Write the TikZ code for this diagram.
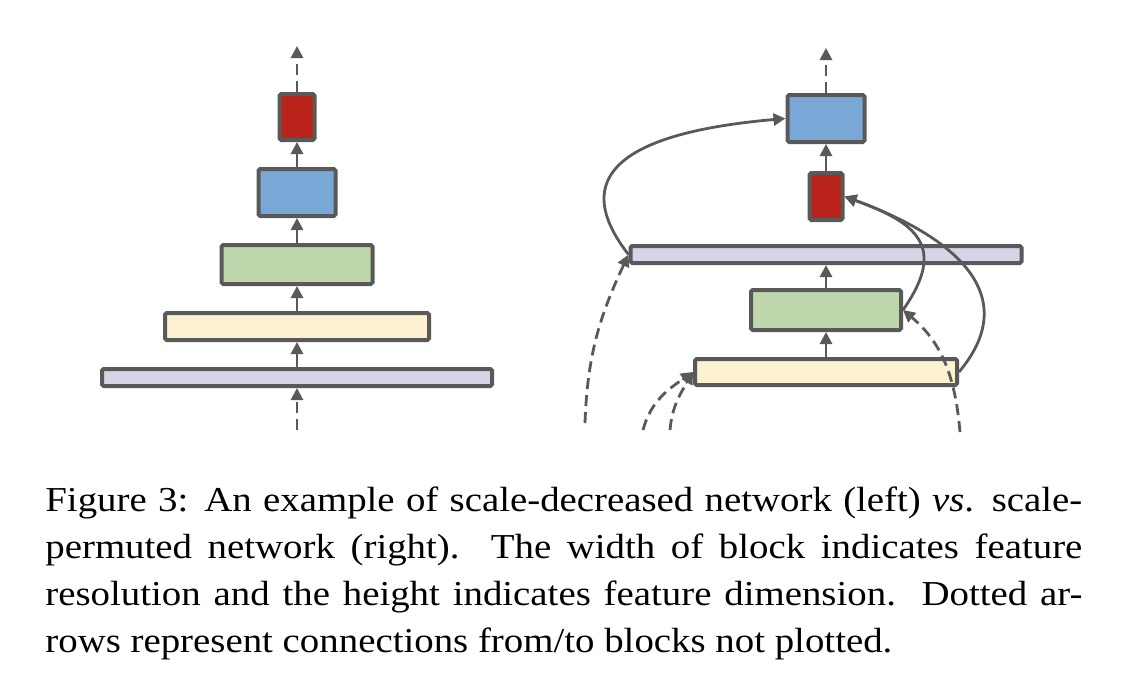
\documentclass[tikz,border=0pt]{standalone}
\usepackage{fontspec}
\setmainfont{Liberation Serif}
\newfontfamily\capfont[FakeStretch=1.11]{Liberation Serif}
\usepackage{tikz}
\usetikzlibrary{arrows.meta}
\definecolor{lnGray}{RGB}{89,89,89}
\definecolor{cRed}{RGB}{186,35,25}
\definecolor{cBlue}{RGB}{121,167,214}
\definecolor{cGreen}{RGB}{190,215,173}
\definecolor{cYellow}{RGB}{252,241,209}
\definecolor{cPurple}{RGB}{216,212,232}

\begin{document}
\begin{tikzpicture}[x=0.5pt, y=0.5pt,
  blk/.style={draw=lnGray, line width=2pt, rounded corners=0.8pt, inner sep=0pt},
  sz/.style 2 args={minimum width=#1*0.5pt, minimum height=#2*0.5pt},
  conn/.style={draw=lnGray, line width=1.4pt, -{Triangle[length=6pt,width=6pt]}},
  dconn/.style={conn, dash pattern=on 5.5pt off 3pt}]
\useasboundingbox (0,0) rectangle (1132,-680);

% Left: scale-decreased
\node[blk, fill=cPurple, sz={390}{17}] (lp) at (297,-377.5) {};
\node[blk, fill=cYellow, sz={264}{27}] (ly) at (297,-326.5) {};
\node[blk, fill=cGreen, sz={151}{39}] (lg) at (297,-264.5) {};
\node[blk, fill=cBlue, sz={77}{47}] (lb) at (297,-192.5) {};
\node[blk, fill=cRed, sz={35}{46}] (lr) at (297,-117) {};
\coordinate (lin) at (297,-430);
\coordinate (lout) at (297,-46);

\draw[dconn] (lin) -- (lp);
\draw[conn] (lp) -- (ly);
\draw[conn] (ly) -- (lg);
\draw[conn] (lg) -- (lb);
\draw[conn] (lb) -- (lr);
\draw[dconn] (lr) -- (lout);

% Right: scale-permuted
\node[blk, fill=cBlue, sz={77}{47}] (rb) at (826,-118.5) {};
\node[blk, fill=cRed, sz={33}{47}] (rr) at (826,-196.5) {};
\node[blk, fill=cPurple, sz={391}{17}] (rp) at (826,-254.5) {};
\node[blk, fill=cGreen, sz={150}{40}] (rg) at (826,-310) {};
\node[blk, fill=cYellow, sz={262}{26}] (ry) at (826,-372) {};
\coordinate (rout) at (826,-48);
\coordinate (in1) at (585,-423);
\coordinate (in2) at (643,-430);
\coordinate (in3) at (670,-430);
\coordinate (in4) at (960,-432);

\draw[conn] (ry) -- (rg);
\draw[conn] (rg) -- (rp);
\draw[conn] (rr) -- (rb);
\draw[dconn] (rb) -- (rout);

% cross-scale connections
\draw[conn] (rp.west) to[out=128, in=185, looseness=1.5] (rb.west);
\draw[conn] (rg.east) to[out=55, in=-20, looseness=1.55] (rr.east);
\draw[conn] (ry.east) to[out=50, in=-20, looseness=1.3] (rr.east);

% from/to blocks not plotted
\draw[dconn] (in1) to[out=88, in=245] (rp.west);
\draw[dconn] (in2) to[out=75, in=215] (ry.west);
\draw[dconn] (in3) to[out=85, in=240] (ry.west);
\draw[dconn] (in4) to[out=95, in=-40] (rg.east);

% caption
\node[anchor=north west, inner sep=0pt, text width=518.5pt, align=justify,
  font=\capfont\fontsize{17.5}{23.5}\selectfont] (cap) at (45,-486)
  {Figure 3: An example of scale-decreased network (left) \textit{vs}. scale-\linebreak
   permuted network (right).\ \ The width of block indicates feature\linebreak
   resolution and the height indicates feature dimension.\ \ Dotted ar-\linebreak
   rows represent connections from/to blocks not plotted.};
\end{tikzpicture}
\end{document}
